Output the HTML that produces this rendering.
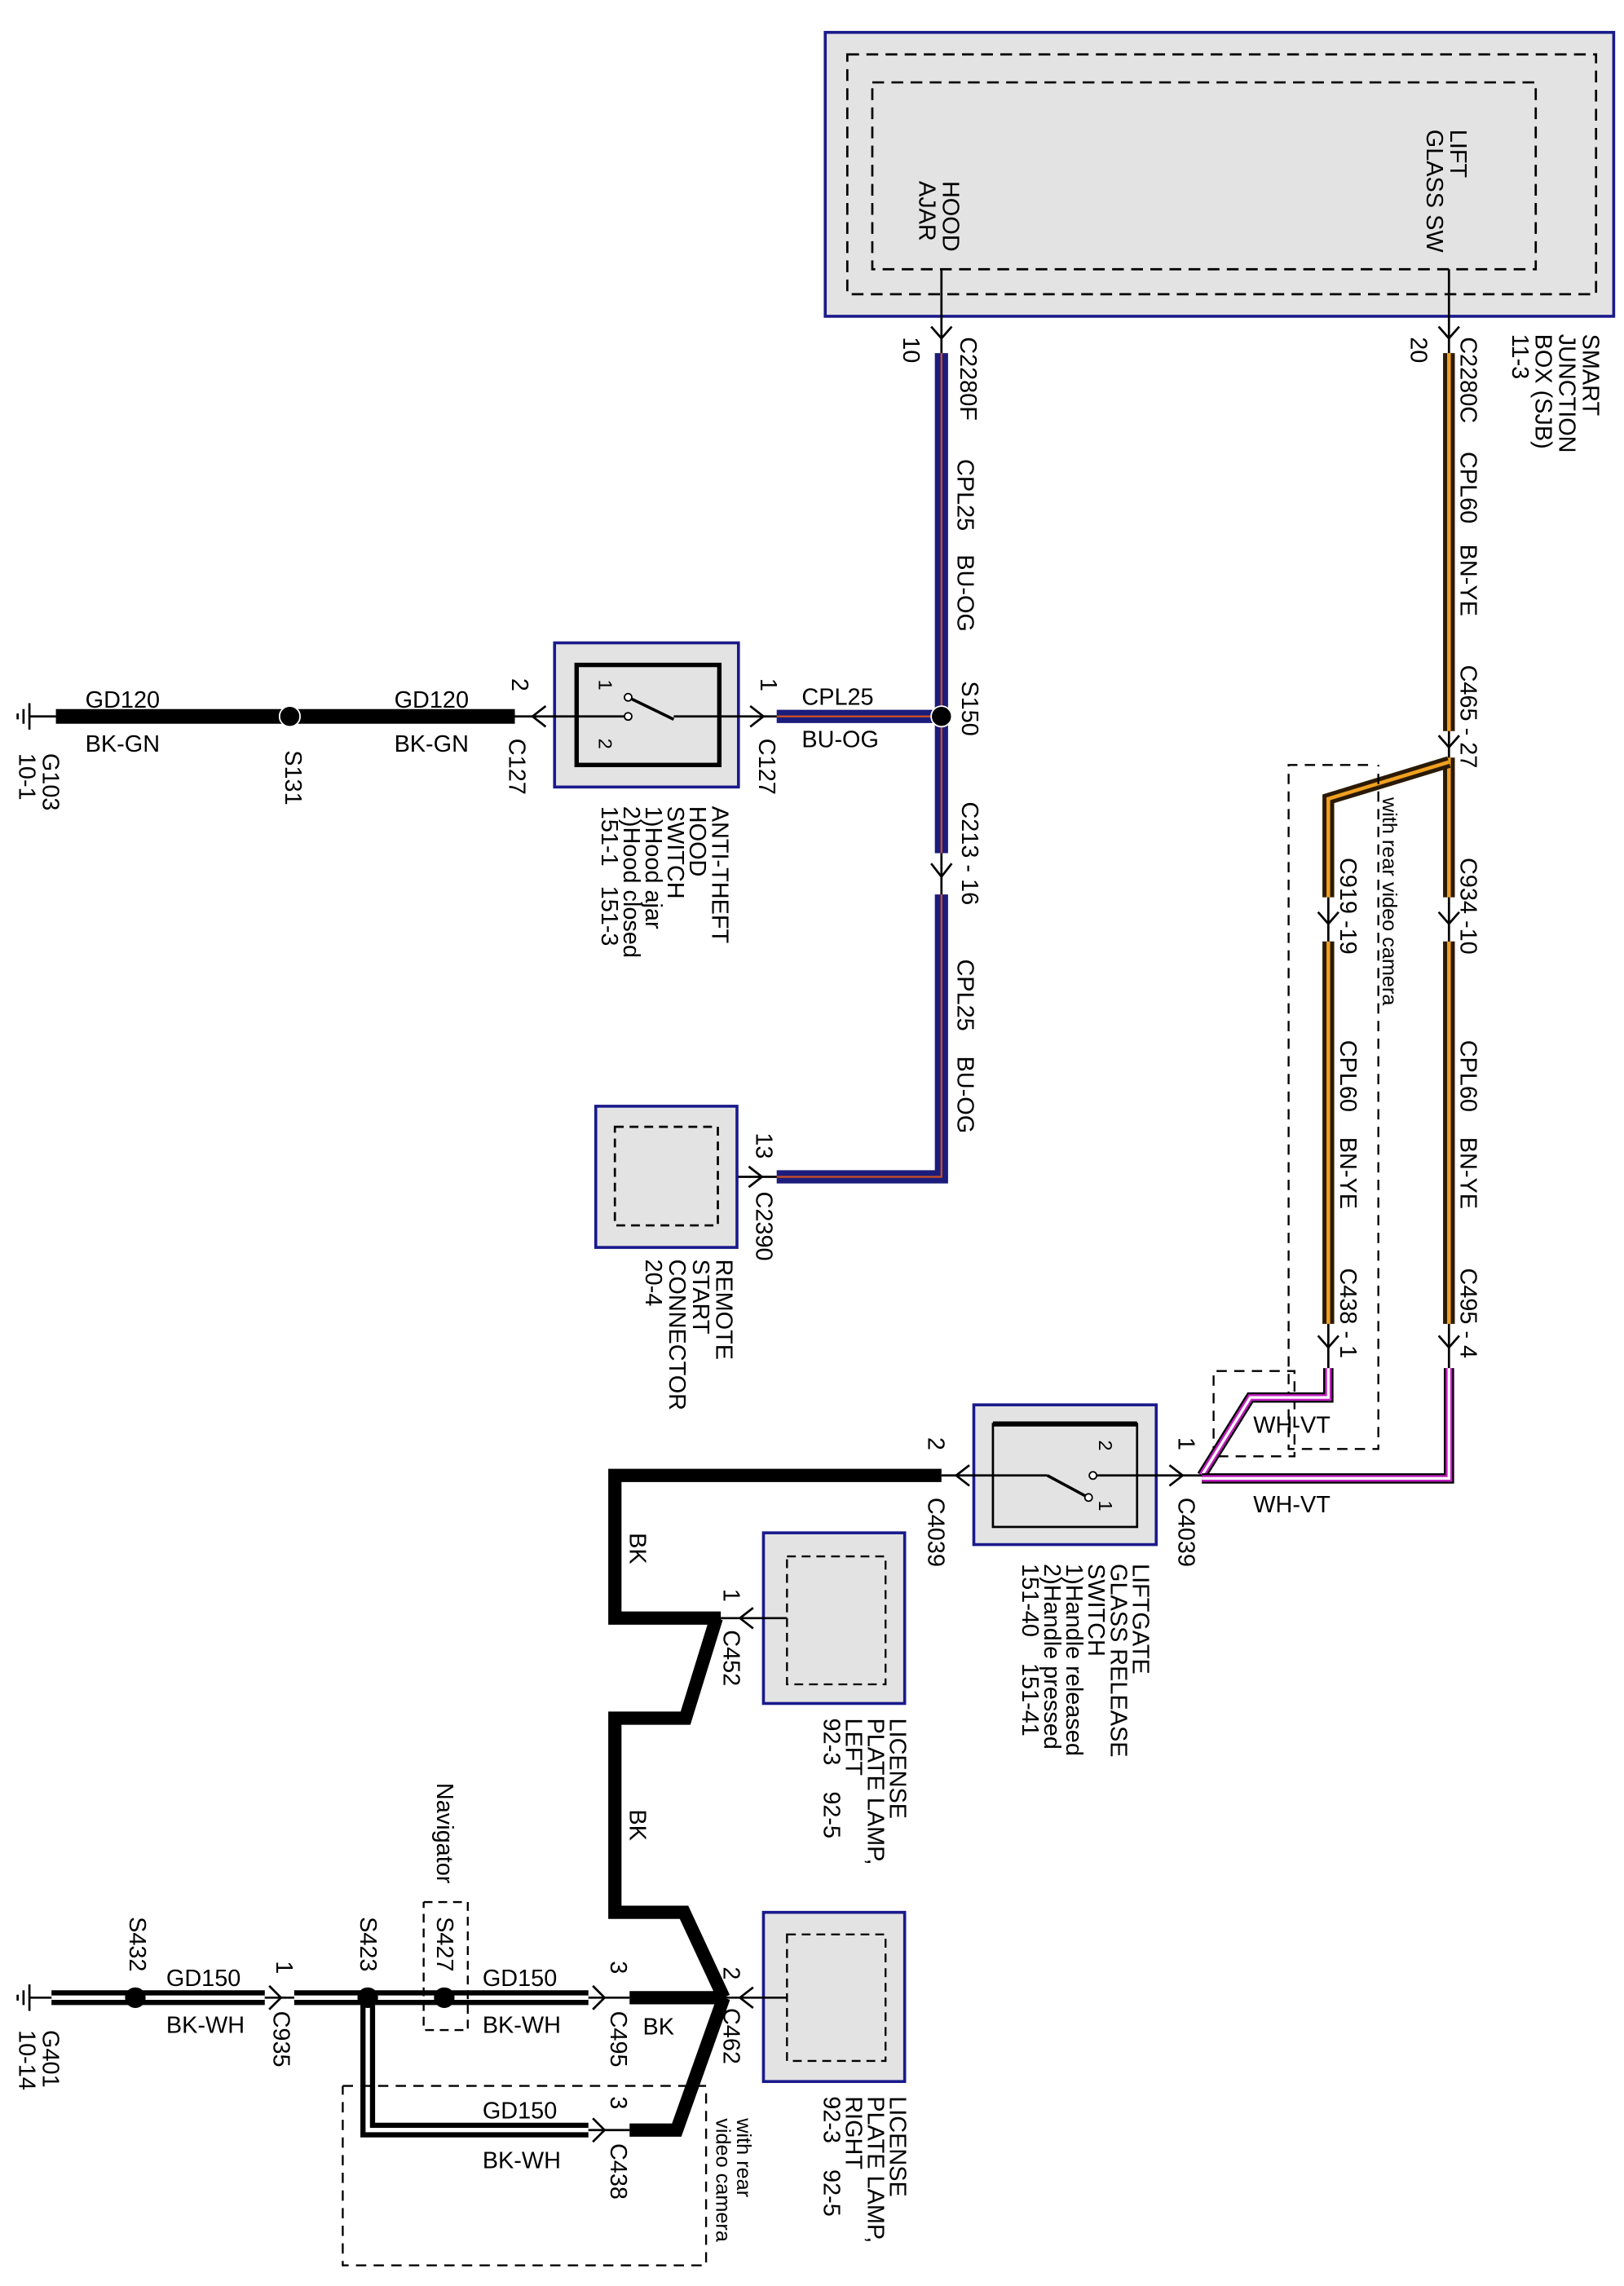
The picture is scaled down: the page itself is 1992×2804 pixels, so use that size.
<!DOCTYPE html>
<html><head><meta charset="utf-8"><style>
html,body{margin:0;padding:0;background:#fff}
svg{display:block}
text{font-family:"Liberation Sans",Arial,sans-serif;font-size:16px;fill:#000}
</style></head><body>
<svg width="1992" height="2804" viewBox="0 0 1104 1554" xmlns="http://www.w3.org/2000/svg">
<rect width="1104" height="1554" fill="#fff"/>

<!-- SJB -->
<rect x="561" y="22" width="536" height="193" fill="#e3e3e3" stroke="#1a1a8c" stroke-width="2"/>
<rect x="576" y="37" width="509" height="163" fill="none" stroke="#000" stroke-width="1.5" stroke-dasharray="8,5"/>
<rect x="593" y="56" width="451" height="127" fill="none" stroke="#000" stroke-width="1.5" stroke-dasharray="8,5"/>
<text transform="translate(641,123) rotate(90)">HOOD</text>
<text transform="translate(625,123) rotate(90)">AJAR</text>
<text transform="translate(986,88) rotate(90)">LIFT</text>
<text transform="translate(970,88) rotate(90)">GLASS SW</text>
<text transform="translate(1076,227) rotate(90)">SMART</text>
<text transform="translate(1060,227) rotate(90)">JUNCTION</text>
<text transform="translate(1044,227) rotate(90)">BOX (SJB)</text>
<text transform="translate(1028,227) rotate(90)">11-3</text>

<g fill="none" stroke="#000" stroke-width="1.5">
<line x1="640" y1="183" x2="640" y2="240"/>
<polyline points="633,222 640,230 647,222"/>
<line x1="985" y1="183" x2="985" y2="240"/>
<polyline points="978,222 985,230 992,222"/>
</g>
<text transform="translate(614,229) rotate(90)">10</text>
<text transform="translate(653,229) rotate(90)">C2280F</text>
<text transform="translate(959,229) rotate(90)">20</text>
<text transform="translate(993,229) rotate(90)">C2280C</text>

<!-- blue wires -->
<g fill="none" stroke-linejoin="miter">
<polyline points="640,240 640,487" stroke="#1c1c7c" stroke-width="9"/>
<polyline points="640,240 640,487" stroke="#d05020" stroke-width="1.2"/>
<polyline points="640,487 640,580" stroke="#1c1c7c" stroke-width="9"/>
<polyline points="640,487 640,580" stroke="#d05020" stroke-width="1.2"/>
<polyline points="640,608 640,800 528,800" stroke="#1c1c7c" stroke-width="9"/>
<polyline points="640,608 640,800 528,800" stroke="#d05020" stroke-width="1.2"/>
<polyline points="528,487 640,487" stroke="#1c1c7c" stroke-width="9"/>
<polyline points="528,487 640,487" stroke="#d05020" stroke-width="1.2"/>
</g>
<g fill="none" stroke="#000" stroke-width="1.5">
<line x1="640" y1="580" x2="640" y2="608"/>
<polyline points="633,587 640,596 647,587"/>
<line x1="490" y1="800" x2="528" y2="800"/>
<polyline points="509,793 518,800 509,807"/>
</g>
<circle cx="640" cy="487" r="7" fill="#000" stroke="#fff" stroke-width="1"/>
<text transform="translate(651,312) rotate(90)">CPL25</text>
<text transform="translate(651,377) rotate(90)">BU-OG</text>
<text transform="translate(654,463) rotate(90)">S150</text>
<text transform="translate(654,545) rotate(90)">C213 - 16</text>
<text transform="translate(651,652) rotate(90)">CPL25</text>
<text transform="translate(651,718) rotate(90)">BU-OG</text>
<text transform="translate(514,770) rotate(90)">13</text>
<text transform="translate(514,810) rotate(90)">C2390</text>

<!-- remote start -->
<rect x="405" y="752" width="96" height="96" fill="#e3e3e3" stroke="#1a1a8c" stroke-width="2"/>
<rect x="418" y="766" width="70" height="67" fill="none" stroke="#000" stroke-width="1.5" stroke-dasharray="6,4"/>
<text transform="translate(487,856) rotate(90)">REMOTE</text>
<text transform="translate(471,856) rotate(90)">START</text>
<text transform="translate(455,856) rotate(90)">CONNECTOR</text>
<text transform="translate(439,856) rotate(90)">20-4</text>

<!-- hood switch -->
<rect x="377" y="437" width="125" height="98" fill="#e3e3e3" stroke="#1a1a8c" stroke-width="2"/>
<rect x="392" y="452" width="97" height="68" fill="none" stroke="#000" stroke-width="3"/>
<g fill="none" stroke="#000" stroke-width="1.5">
<line x1="350" y1="487" x2="427" y2="487"/>
<line x1="458" y1="487" x2="528" y2="487"/>
<polyline points="371,480 362,487 371,494"/>
<polyline points="510,480 519,487 510,494"/>
</g>
<line x1="427" y1="474" x2="458" y2="489" stroke="#000" stroke-width="2"/>
<circle cx="427" cy="474" r="2.5" fill="#fff" stroke="#000"/>
<circle cx="427" cy="487" r="2.5" fill="#fff" stroke="#000"/>
<text transform="translate(407,462) rotate(90)" style="font-size:13px">1</text>
<text transform="translate(407,502) rotate(90)" style="font-size:13px">2</text>
<text transform="translate(348,461) rotate(90)">2</text>
<text transform="translate(346,502) rotate(90)">C127</text>
<text transform="translate(517,461) rotate(90)">1</text>
<text transform="translate(516,502) rotate(90)">C127</text>
<text x="545" y="479">CPL25</text>
<text x="545" y="508">BU-OG</text>
<text transform="translate(484,548) rotate(90)">ANTI-THEFT</text>
<text transform="translate(469,548) rotate(90)">HOOD</text>
<text transform="translate(454,548) rotate(90)">SWITCH</text>
<text transform="translate(439,548) rotate(90)">1)Hood ajar</text>
<text transform="translate(424,548) rotate(90)">2)Hood closed</text>
<text transform="translate(409,548) rotate(90)">151-1 &#160;&#160;151-3</text>

<!-- GD120 -->
<line x1="38" y1="487" x2="350" y2="487" stroke="#000" stroke-width="10"/>
<circle cx="197" cy="487" r="7" fill="#000" stroke="#fff" stroke-width="1"/>
<g stroke="#000" stroke-width="1.5">
<line x1="20" y1="487" x2="38" y2="487"/>
<line x1="20" y1="478" x2="20" y2="496"/>
<line x1="16" y1="482" x2="16" y2="492"/>
<line x1="12" y1="485" x2="12" y2="489"/>
</g>
<text x="58" y="481">GD120</text>
<text x="58" y="511">BK-GN</text>
<text x="268" y="481">GD120</text>
<text x="268" y="511">BK-GN</text>
<text transform="translate(194,510) rotate(90)">S131</text>
<text transform="translate(29,512) rotate(90)">G103</text>
<text transform="translate(13,512) rotate(90)">10-1</text>

<!-- BN-YE wires -->
<g fill="none" stroke-linejoin="miter">
<polyline points="985,240 985,497" stroke="#2a1a05" stroke-width="8"/>
<polyline points="985,240 985,497" stroke="#f0a020" stroke-width="2.5"/>
<polyline points="985,515 985,610" stroke="#2a1a05" stroke-width="8"/>
<polyline points="985,515 985,610" stroke="#f0a020" stroke-width="2.5"/>
<polyline points="985,518 903,543 903,610" stroke="#2a1a05" stroke-width="8"/>
<polyline points="985,518 903,543 903,610" stroke="#f0a020" stroke-width="2.5"/>
<polyline points="985,640 985,900" stroke="#2a1a05" stroke-width="8"/>
<polyline points="985,640 985,900" stroke="#f0a020" stroke-width="2.5"/>
<polyline points="903,640 903,900" stroke="#2a1a05" stroke-width="8"/>
<polyline points="903,640 903,900" stroke="#f0a020" stroke-width="2.5"/>
</g>
<g fill="none" stroke="#000" stroke-width="1.5">
<line x1="985" y1="497" x2="985" y2="515"/><polyline points="978,500 985,508 992,500"/>
<line x1="985" y1="610" x2="985" y2="640"/><polyline points="978,620 985,628 992,620"/>
<line x1="903" y1="610" x2="903" y2="640"/><polyline points="896,620 903,628 910,620"/>
<line x1="985" y1="900" x2="985" y2="930"/><polyline points="978,908 985,916 992,908"/>
<line x1="903" y1="900" x2="903" y2="930"/><polyline points="896,908 903,916 910,908"/>
</g>
<text transform="translate(993,307) rotate(90)">CPL60</text>
<text transform="translate(993,370) rotate(90)">BN-YE</text>
<text transform="translate(993,452) rotate(90)">C465 - 27</text>
<text transform="translate(993,583) rotate(90)">C934 -10</text>
<text transform="translate(993,707) rotate(90)">CPL60</text>
<text transform="translate(993,773) rotate(90)">BN-YE</text>
<text transform="translate(993,862) rotate(90)">C495 - 4</text>
<text transform="translate(911,583) rotate(90)">C919 -19</text>
<text transform="translate(911,707) rotate(90)">CPL60</text>
<text transform="translate(911,773) rotate(90)">BN-YE</text>
<text transform="translate(911,862) rotate(90)">C438 - 1</text>
<polyline points="930,520 876,520 876,985 937,985 937,520" fill="none" stroke="#000" stroke-width="1.3" stroke-dasharray="7,5"/>
<text transform="translate(940,542) rotate(90)" style="font-size:14px">with rear video camera</text>

<!-- WH-VT -->
<polyline points="825,990 825,932 880,932 880,990 825,990" fill="none" stroke="#000" stroke-width="1.3" stroke-dasharray="7,5"/>
<g fill="none">
<polyline points="903,930 903,950 850,950 817,1003" stroke="#000" stroke-width="7"/>
<polyline points="903,930 903,950 850,950 817,1003" stroke="#c020c0" stroke-width="4.5"/>
<polyline points="903,930 903,950 850,950 817,1003" stroke="#fff" stroke-width="1.8"/>
<polyline points="985,930 985,1005 817,1005" stroke="#000" stroke-width="7"/>
<polyline points="985,930 985,1005 817,1005" stroke="#c020c0" stroke-width="4.5"/>
<polyline points="985,930 985,1005 817,1005" stroke="#fff" stroke-width="1.8"/>
</g>
<text x="852" y="974">WH-VT</text>
<text x="852" y="1028">WH-VT</text>

<!-- liftgate switch -->
<rect x="662" y="955" width="124" height="95" fill="#e3e3e3" stroke="#1a1a8c" stroke-width="2"/>
<rect x="675" y="968" width="98" height="70" fill="none" stroke="#000" stroke-width="1.5"/>
<line x1="675" y1="968" x2="773" y2="968" stroke="#000" stroke-width="3.5"/>
<g fill="none" stroke="#000" stroke-width="1.5">
<line x1="640" y1="1003" x2="712" y2="1003"/>
<line x1="746" y1="1003" x2="817" y2="1003"/>
<polyline points="659,996 650,1003 659,1010"/>
<polyline points="795,996 804,1003 795,1010"/>
</g>
<line x1="712" y1="1003" x2="738" y2="1017" stroke="#000" stroke-width="2"/>
<circle cx="743" cy="1003" r="2.5" fill="#fff" stroke="#000"/>
<circle cx="740" cy="1018" r="2.5" fill="#fff" stroke="#000"/>
<text transform="translate(747,979) rotate(90)" style="font-size:13px">2</text>
<text transform="translate(747,1020) rotate(90)" style="font-size:13px">1</text>
<text transform="translate(631,977) rotate(90)">2</text>
<text transform="translate(631,1018) rotate(90)">C4039</text>
<text transform="translate(801,977) rotate(90)">1</text>
<text transform="translate(801,1018) rotate(90)">C4039</text>
<text transform="translate(770,1063) rotate(90)">LIFTGATE</text>
<text transform="translate(755,1063) rotate(90)">GLASS RELEASE</text>
<text transform="translate(740,1063) rotate(90)">SWITCH</text>
<text transform="translate(725,1063) rotate(90)">1)Handle released</text>
<text transform="translate(710,1063) rotate(90)">2)Handle pressed</text>
<text transform="translate(695,1063) rotate(90)">151-40 &#160;&#160;&#160;151-41</text>

<!-- black BK wires -->
<g fill="none" stroke="#000" stroke-width="9" stroke-linejoin="miter">
<polyline points="640,1003 418,1003 418,1100 490,1100"/>
<polyline points="487,1100 466,1168 418,1168 418,1300 465,1300 492,1358"/>
<polyline points="492,1358 428,1358"/>
<polyline points="492,1358 460,1448 428,1448"/>
</g>
<text transform="translate(428,1042) rotate(90)">BK</text>
<text transform="translate(428,1230) rotate(90)">BK</text>
<text x="437" y="1383">BK</text>

<!-- license lamps -->
<rect x="519" y="1042" width="96" height="116" fill="#e3e3e3" stroke="#1a1a8c" stroke-width="2"/>
<rect x="535" y="1058" width="67" height="87" fill="none" stroke="#000" stroke-width="1.3" stroke-dasharray="6,4"/>
<rect x="519" y="1300" width="96" height="115" fill="#e3e3e3" stroke="#1a1a8c" stroke-width="2"/>
<rect x="535" y="1315" width="67" height="86" fill="none" stroke="#000" stroke-width="1.3" stroke-dasharray="6,4"/>
<g fill="none" stroke="#000" stroke-width="1.5">
<line x1="490" y1="1100" x2="535" y2="1100"/>
<polyline points="512,1093 503,1100 512,1107"/>
<line x1="492" y1="1358" x2="535" y2="1358"/>
<polyline points="512,1351 503,1358 512,1365"/>
</g>
<text transform="translate(492,1080) rotate(90)">1</text>
<text transform="translate(492,1108) rotate(90)">C452</text>
<text transform="translate(492,1337) rotate(90)">2</text>
<text transform="translate(492,1365) rotate(90)">C462</text>
<text transform="translate(605,1168) rotate(90)">LICENSE</text>
<text transform="translate(590,1168) rotate(90)">PLATE LAMP,</text>
<text transform="translate(575,1168) rotate(90)">LEFT</text>
<text transform="translate(560,1168) rotate(90)">92-3 &#160;&#160;&#160;92-5</text>
<text transform="translate(605,1425) rotate(90)">LICENSE</text>
<text transform="translate(590,1425) rotate(90)">PLATE LAMP,</text>
<text transform="translate(575,1425) rotate(90)">RIGHT</text>
<text transform="translate(560,1425) rotate(90)">92-3 &#160;&#160;&#160;92-5</text>

<!-- bottom BK-WH -->
<g fill="none">
<polyline points="35,1358 180,1358" stroke="#000" stroke-width="10"/>
<polyline points="35,1358 180,1358" stroke="#fff" stroke-width="3"/>
<polyline points="200,1358 400,1358" stroke="#000" stroke-width="10"/>
<polyline points="200,1358 400,1358" stroke="#fff" stroke-width="3"/>
<polyline points="250,1358 250,1448 400,1448" stroke="#000" stroke-width="10"/>
<polyline points="250,1358 250,1448 400,1448" stroke="#fff" stroke-width="3"/>
</g>
<g stroke="#000" stroke-width="1.5" fill="none">
<line x1="20" y1="1358" x2="35" y2="1358"/>
<line x1="20" y1="1349" x2="20" y2="1367"/>
<line x1="16" y1="1353" x2="16" y2="1363"/>
<line x1="12" y1="1356" x2="12" y2="1360"/>
<line x1="180" y1="1358" x2="200" y2="1358"/>
<polyline points="183,1350 191,1358 183,1366"/>
<line x1="400" y1="1358" x2="428" y2="1358"/>
<polyline points="403,1350 411,1358 403,1366"/>
<line x1="400" y1="1448" x2="428" y2="1448"/>
<polyline points="403,1440 411,1448 403,1456"/>
</g>
<circle cx="92" cy="1358" r="7" fill="#000"/>
<circle cx="250" cy="1358" r="7" fill="#000"/>
<circle cx="302" cy="1358" r="7" fill="#000"/>
<polyline points="288,1293 318,1293 318,1380 288,1380 288,1293" fill="none" stroke="#000" stroke-width="1.3" stroke-dasharray="6,4"/>
<polyline points="233,1418 480,1418 480,1540 233,1540 233,1418" fill="none" stroke="#000" stroke-width="1.3" stroke-dasharray="7,5"/>
<text x="113" y="1350">GD150</text>
<text x="113" y="1382">BK-WH</text>
<text x="328" y="1350">GD150</text>
<text x="328" y="1382">BK-WH</text>
<text x="328" y="1440">GD150</text>
<text x="328" y="1474">BK-WH</text>
<text transform="translate(88,1303) rotate(90)">S432</text>
<text transform="translate(245,1303) rotate(90)">S423</text>
<text transform="translate(297,1303) rotate(90)">S427</text>
<text transform="translate(297,1212) rotate(90)">Navigator</text>
<text transform="translate(188,1333) rotate(90)">1</text>
<text transform="translate(186,1367) rotate(90)">C935</text>
<text transform="translate(415,1333) rotate(90)">3</text>
<text transform="translate(415,1367) rotate(90)">C495</text>
<text transform="translate(415,1425) rotate(90)">3</text>
<text transform="translate(415,1457) rotate(90)">C438</text>
<text transform="translate(29,1380) rotate(90)">G401</text>
<text transform="translate(13,1380) rotate(90)">10-14</text>
<text transform="translate(501,1440) rotate(90)" style="font-size:14px">with rear</text>
<text transform="translate(487,1440) rotate(90)" style="font-size:14px">video camera</text>
</svg>
</body></html>
